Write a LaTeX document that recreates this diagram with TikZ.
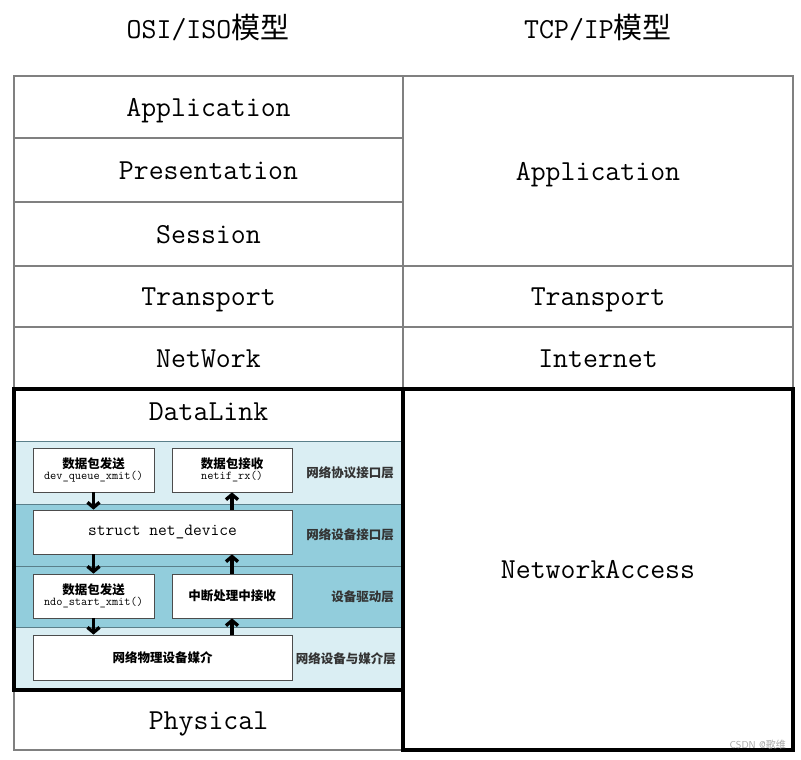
\documentclass[tikz,border=0pt]{standalone}
\usepackage{fontspec}
\usepackage{tikz}
\usetikzlibrary{arrows.meta, positioning}
\newfontfamily\cjk{Noto Sans CJK SC}
\newcommand\bigtt{\fontsize{29}{34}\selectfont\ttfamily}
\definecolor{bandlight}{HTML}{DAEEF3}
\definecolor{banddark}{HTML}{92CDDC}
\definecolor{gridgray}{HTML}{808080}
\definecolor{bandline}{HTML}{5A7F8A}

\begin{document}
\begin{tikzpicture}[x=1pt,y=-1pt]
	
	\tikzset{
		cell/.style 2 args={
			draw=gridgray, line width=1.6pt,
			minimum width=#1, minimum height=#2,
			inner sep=0pt, font=\bigtt,
			text height=18pt, text depth=0pt
		},
		band/.style 2 args={
			fill=#1, draw=bandline, line width=0.8pt,
			minimum width=389pt, minimum height=#2, inner sep=0pt
		},
		inbox/.style 2 args={
			draw=black!70, fill=white, line width=0.8pt,
			minimum width=#1, minimum height=#2,
			inner sep=0pt, align=center
		},
		tag/.style={font=\cjk\bfseries\fontsize{12.5}{14}\selectfont, anchor=east, text=black!80},
		flow/.style={line width=3.4pt, -{Straight Barb[length=5pt,width=12pt]}},
		thickbox/.style 2 args={
			draw=black, line width=3.6pt,
			minimum width=#1, minimum height=#2, inner sep=0pt
		}
	}
	
	\useasboundingbox (0,0) rectangle (801,760);
	
	\node[font=\bigtt] (osi) at (208,28) {OSI/ISO{\cjk 模型}};
	\node[font=\bigtt] (tcp) at (598,28) {TCP/IP{\cjk 模型}};
	
	\node[cell={389pt}{62pt}] (app) at (208.5,107) {Application};
	\node[cell={389pt}{64pt}] (pres) at (208.5,170) {Presentation};
	\node[cell={389pt}{64pt}] (sess) at (208.5,234) {Session};
	\node[cell={389pt}{61pt}] (trans) at (208.5,296.5) {Transport};
	\node[cell={389pt}{62pt}] (net) at (208.5,358) {NetWork};
	\node[cell={389pt}{60pt}] (phys) at (208.5,720) {Physical};
	
	\node[cell={390pt}{190pt}] (tapp) at (598,171) {Application};
	\node[cell={390pt}{61pt}] (ttrans) at (598,296.5) {Transport};
	\node[cell={390pt}{62pt}] (tinet) at (598,358) {Internet};
	
	\node[band={bandlight}{63pt}] (b1) at (208.5,472.5) {};
	\node[band={banddark}{62pt}] (b2) at (208.5,535) {};
	\node[band={banddark}{61pt}] (b3) at (208.5,596.5) {};
	\node[band={bandlight}{63pt}] (b4) at (208.5,658.5) {};
	
	\node[tag] (t1) at ([xshift=-6pt]b1.east) {网络协议接口层};
	\node[tag] (t2) at ([xshift=-6pt]b2.east) {网络设备接口层};
	\node[tag] (t3) at ([xshift=-6pt]b3.east) {设备驱动层};
	\node[tag] (t4) at ([xshift=-4pt]b4.east) {网络设备与媒介层};
	
	\node[inbox={121pt}{44pt}] (sendq) at (93.5,470) {{\cjk\bfseries\fontsize{12.5}{15}\selectfont 数据包发送}\\[-1pt]{\ttfamily\fontsize{12}{14}\selectfont dev\_queue\_xmit()}};
	\node[inbox={120pt}{44pt}] (recvq) at (232,470) {{\cjk\bfseries\fontsize{12.5}{15}\selectfont 数据包接收}\\[-1pt]{\ttfamily\fontsize{12}{14}\selectfont netif\_rx()}};
	\node[inbox={259pt}{44pt}, font=\ttfamily\fontsize{17}{20}\selectfont] (netdev) at (162.5,532) {struct net\_device};
	\node[inbox={121pt}{44pt}] (xmit) at (93.5,596) {{\cjk\bfseries\fontsize{12.5}{15}\selectfont 数据包发送}\\[-1pt]{\ttfamily\fontsize{12}{14}\selectfont ndo\_start\_xmit()}};
	\node[inbox={120pt}{44pt}, font=\cjk\bfseries\fontsize{12.5}{15}\selectfont] (irq) at (232,596) {中断处理中接收};
	\node[inbox={259pt}{45pt}, font=\cjk\bfseries\fontsize{12.5}{15}\selectfont] (phy) at (162.5,657.5) {网络物理设备媒介};
	
	\draw[flow] (sendq.south) -- (sendq.south |- netdev.north);
	\draw[flow] (sendq.south |- netdev.south) -- (xmit.north);
	\draw[flow] (xmit.south) -- (xmit.south |- phy.north);
	\draw[flow] (irq.south |- phy.north) -- (irq.south);
	\draw[flow] (irq.north) -- (irq.north |- netdev.south);
	\draw[flow] (recvq.south |- netdev.north) -- (recvq.south);
	
	\node[thickbox={389pt}{301pt}] (datalink) at (208.5,539.5) {};
	\node[font=\bigtt, below=15pt of datalink.north, inner sep=0pt] (dlname) {DataLink};
	\node[thickbox={390pt}{361pt}] (tacc) at (598,569.5) {};
	\node[font=\bigtt] (taccname) at (tacc.center) {NetworkAccess};
	
	\node[font=\sffamily\fontsize{10}{12}\selectfont, text=black!35, anchor=east, inner sep=0pt] (mark) at (786,745) {CSDN @{\cjk 歌维}};
	
\end{tikzpicture}
\end{document}
